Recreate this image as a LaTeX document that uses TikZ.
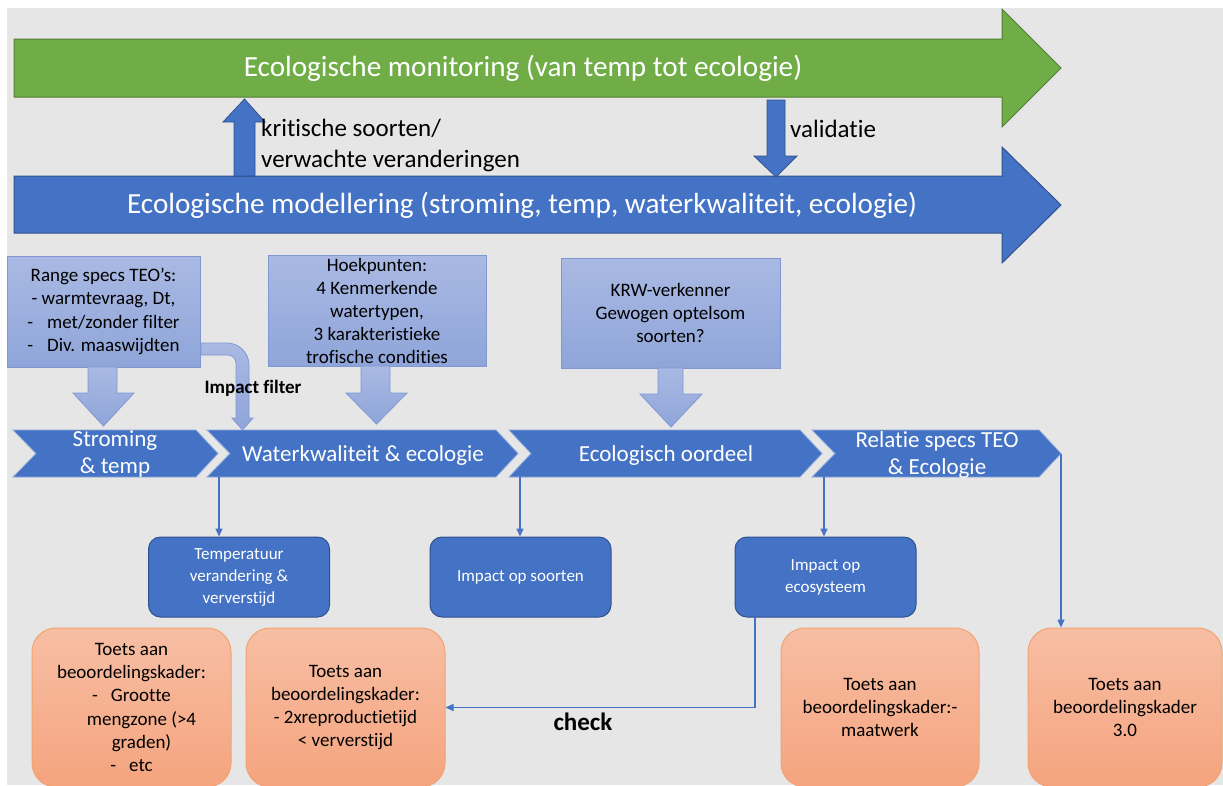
\documentclass[tikz,border=0pt]{standalone}
\usepackage{fontspec}
\setmainfont{Carlito}[Ligatures=NoCommon]
\usetikzlibrary{arrows.meta}
\definecolor{bg}{HTML}{E6E6E6}
\definecolor{grn}{HTML}{70AD47}
\definecolor{grnd}{HTML}{507E32}
\definecolor{blu}{HTML}{4472C4}
\definecolor{blud}{HTML}{2F528F}
\definecolor{lbt}{HTML}{A9B9E3}
\definecolor{lbb}{HTML}{8FA5D9}
\definecolor{lbd}{HTML}{7F98D3}
\definecolor{ort}{HTML}{F7BEA4}
\definecolor{orb}{HTML}{F5A47E}
\definecolor{ord}{HTML}{F2A36F}
\definecolor{chd}{HTML}{8FAADC}
\begin{document}
\begin{tikzpicture}[x=1pt,y=-1pt,
  bigtext/.style={text=white,font=\fontsize{29.2}{35}\selectfont,inner sep=0},
  lbshape/.style={top color=lbt,bottom color=lbb,draw=lbd,line width=0.8pt},
  lbox/.style={lbshape,rectangle,inner sep=0,align=center,font=\fontsize{19}{23.3}\selectfont},
  chev/.style={fill=blu,draw=chd,line width=0.8pt},
  chevtext/.style={text=white,font=\fontsize{23}{27}\selectfont,align=center,inner sep=0},
  dbox/.style={rectangle,rounded corners=12pt,fill=blu,draw=blud,line width=1pt,text=white,align=center,font=\fontsize{17}{22}\selectfont,inner sep=0,minimum width=181pt,minimum height=80pt},
  obox/.style={rectangle,rounded corners=24pt,top color=ort,bottom color=orb,draw=ord,line width=1pt,align=center,font=\fontsize{19}{23.3}\selectfont,inner sep=0,minimum height=159pt},
  conn/.style={draw=blu,line width=1.5pt,-{Triangle[length=8pt,width=7pt]}},
  lbl/.style={font=\fontsize{25}{31}\selectfont,align=left,inner sep=0,anchor=west},
  blockarrow/.style={fill=blu,draw=blud,line width=0.8pt},
]
\useasboundingbox (0,0) rectangle (1223,785);
\fill[white] (0,0) rectangle (1223,785);
\fill[bg] (7,8) rectangle (1223,785);

% big arrows
\path[fill=grn,draw=grnd,line width=1pt] (14,39) -- (1002,39) -- (1002,9) -- (1061,68) -- (1002,127) -- (1002,97) -- (14,97) -- cycle;
\node[bigtext] (mon) at (523,68) {Ecologische monitoring (van temp tot ecologie)};
\path[fill=blu,draw=blud,line width=1pt] (14,176) -- (1002,176) -- (1002,147) -- (1061,205) -- (1002,263) -- (1002,233) -- (14,233) -- cycle;
\node[bigtext] (mod) at (522,205) {Ecologische modellering (stroming, temp, waterkwaliteit, ecologie)};

% up / down arrows
\path[blockarrow] (234,176) -- (234,122) -- (223,122) -- (244.5,99) -- (265,122) -- (255,122) -- (255,176) -- cycle;
\path[blockarrow] (767,100) -- (785,100) -- (785,156) -- (797,156) -- (776,177) -- (754,156) -- (767,156) -- cycle;
\node[lbl] (krit) at (261,145) {kritische soorten/\\verwachte veranderingen};
\node[lbl] (val) at (790,129) {validatie};

% light blue boxes
\node[lbox,minimum width=193pt,minimum height=111pt] (lb1) at (103.5,311.5) {Range specs TEO’s:\\- warmtevraag, Dt,\\-\hspace{14pt}met/zonder filter\\-\hspace{14pt}Div. maaswijdten};
\node[lbox,minimum width=218pt,minimum height=111pt,font=\fontsize{19}{23}\selectfont] (lb2) at (377,310.5) {Hoekpunten:\\4 Kenmerkende\\watertypen,\\3 karakteristieke\\trofische condities};
\node[lbox,minimum width=219pt,minimum height=110pt] (lb3) at (670.5,313) {KRW-verkenner\\Gewogen optelsom\\soorten?};

% light blue down arrows
\path[lbshape] (88,367) -- (117,367) -- (117,393) -- (134,393) -- (103.5,426) -- (73,393) -- (88,393) -- cycle;
\path[lbshape] (361,366) -- (390,366) -- (390,393) -- (407,393) -- (376.5,424) -- (346,393) -- (361,393) -- cycle;
\path[lbshape] (658,368) -- (683,368) -- (683,394) -- (702,394) -- (671,427) -- (640,394) -- (658,394) -- cycle;
% bent arrow
\path[lbshape] (201,343) -- (227,343) .. controls (239.1,343) and (249,352.9) .. (249,365) -- (249,418) -- (253,418) -- (242.5,430) -- (232,418) -- (236,418) -- (236,363) .. controls (236,358.6) and (232.4,355) .. (228,355) -- (201,355) -- cycle;
\node[font=\bfseries\fontsize{19}{23}\selectfont,inner sep=0] (impf) at (253,388) {Impact filter};

% chevrons
\path[chev] (13,430) -- (196,430) -- (218,453.5) -- (196,477) -- (13,477) -- (36,453.5) -- cycle;
\path[chev] (207,430) -- (496,430) -- (518,453.5) -- (496,477) -- (207,477) -- (230,453.5) -- cycle;
\path[chev] (509,430) -- (800,430) -- (822,453.5) -- (800,477) -- (509,477) -- (531,453.5) -- cycle;
\path[chev] (812,430) -- (1039,430) -- (1061,453.5) -- (1039,477) -- (812,477) -- (835,453.5) -- cycle;
\node[chevtext] (t1) at (115,454) {Stroming\\\& temp};
\node[chevtext] (t2) at (363,455) {Waterkwaliteit \& ecologie};
\node[chevtext] (t3) at (666,455) {Ecologisch oordeel};
\node[chevtext] (t4) at (937,455) {Relatie specs TEO\\\& Ecologie};
\coordinate (c2b) at (219,477);
\coordinate (c3b) at (520,477);
\coordinate (c4b) at (824,477);
\coordinate (c4t) at (1061,453.5);

% dark blue boxes
\node[dbox] (temp) at (239,577) {Temperatuur\\verandering \&\\ververstijd};
\node[dbox] (soort) at (520.5,577) {Impact op soorten};
\node[dbox] (eco) at (825.5,577) {Impact op\\ecosysteem};
\coordinate (ecoL) at (755,617);

% orange boxes
\node[obox,minimum width=199pt] (ob1) at (131.5,707.5) {Toets aan\\beoordelingskader:\\-\hspace{13pt}Grootte\\\hspace*{20pt}mengzone (>4\\\hspace*{20pt}graden)\\-\hspace{13pt}etc};
\node[obox,minimum width=199pt] (ob2) at (345.5,707.5) {Toets aan\\beoordelingskader:\\- 2xreproductietijd\\< ververstijd};
\node[obox,minimum width=198pt] (ob3) at (880,707.5) {Toets aan\\beoordelingskader:-\\maatwerk};
\node[obox,minimum width=194pt] (ob4) at (1125,707.5) {Toets aan\\beoordelingskader\\3.0};

% connectors
\draw[conn] (c2b) -- (c2b |- temp.north);
\draw[conn] (c3b) -- (c3b |- soort.north);
\draw[conn] (c4b) -- (c4b |- eco.north);
\draw[conn] (c4t) -- (c4t |- ob4.north);
\draw[conn] (ecoL) |- (ob2.east);
\node[font=\bfseries\fontsize{25}{30}\selectfont,inner sep=0] (chk) at (583,722) {check};
\end{tikzpicture}
\end{document}
